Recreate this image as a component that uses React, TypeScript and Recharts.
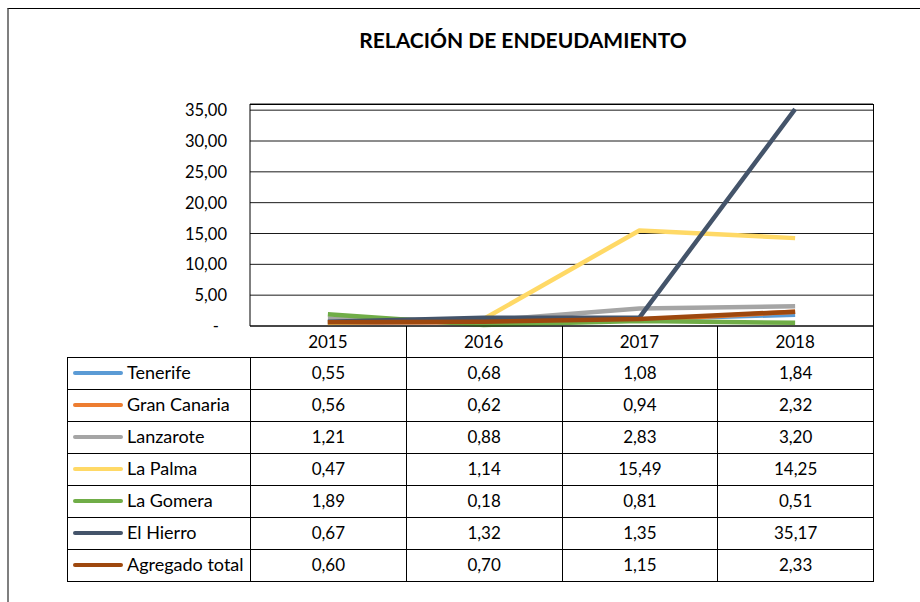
import React from "react";
import { LineChart, Line, XAxis, YAxis, CartesianGrid } from "recharts";

const years = ["2015", "2016", "2017", "2018"];
const seriesNames = ["Tenerife", "Gran Canaria", "Lanzarote", "La Palma", "La Gomera", "El Hierro", "Agregado total"];
const tenerife = [0.55, 0.68, 1.08, 1.84];
const granCanaria = [0.56, 0.62, 0.94, 2.32];
const lanzarote = [1.21, 0.88, 2.83, 3.2];
const laPalma = [0.47, 1.14, 15.49, 14.25];
const laGomera = [1.89, 0.18, 0.81, 0.51];
const elHierro = [0.67, 1.32, 1.35, 35.17];
const agregado = [0.6, 0.7, 1.15, 2.33];
const yTicks = [0, 5, 10, 15, 20, 25, 30, 35];
const colors = ["#5B9BD5", "#ED7D31", "#A5A5A5", "#FFD966", "#70AD47", "#44546A", "#9E480E"];

const seriesValues = [tenerife, granCanaria, lanzarote, laPalma, laGomera, elHierro, agregado];
const keys = ["s0", "s1", "s2", "s3", "s4", "s5", "s6"];

const data = years.map((y, i) => {
  const row: any = { year: y };
  seriesValues.forEach((vals, s) => {
    row[keys[s]] = vals[i];
  });
  return row;
});

const FONT = "Lato, 'Open Sans', sans-serif";
const W = 920;
const H = 602;
const plotLeft = 250;
const plotRight = 873;
const plotTop = 104;
const plotBottom = 326;
const headerH = 31;
const rowH = 32;
const tableLeft = 67;
const colW = (plotRight - plotLeft) / years.length;

const fmt = (v: number) => v.toFixed(2).replace(".", ",");

const YTick = (props: any) => {
  const { y, payload } = props;
  const v = payload.value;
  return (
    <text
      x={v === 0 ? 219 : 227}
      y={y}
      textAnchor="end"
      dominantBaseline="central"
      fontFamily={FONT}
      fontSize={16.5}
      fill="#000"
    >
      {v === 0 ? "-" : fmt(v)}
    </text>
  );
};

const XTick = (props: any) => {
  const { x, payload } = props;
  return (
    <text
      x={x}
      y={plotBottom + headerH / 2}
      textAnchor="middle"
      dominantBaseline="central"
      fontFamily={FONT}
      fontSize={17}
      fill="#000"
    >
      {payload.value}
    </text>
  );
};

const border = "1px solid #000";

export default function App() {
  return (
    <div style={{ position: "absolute", left: 0, top: 0, width: W, height: H, background: "#fff", overflow: "hidden" }}>
      <div
        style={{
          position: "absolute",
          left: 7,
          top: 8,
          width: W - 7,
          height: H - 8,
          borderTop: "1px solid #000",
          borderLeft: "2px solid #7f7f7f",
          boxSizing: "border-box",
        }}
      />
      <div
        style={{
          position: "absolute",
          left: 523 - 250,
          width: 500,
          top: 27,
          textAlign: "center",
          fontFamily: FONT,
          fontWeight: 700,
          fontSize: 21,
          color: "#000",
        }}
      >
        RELACIÓN DE ENDEUDAMIENTO
      </div>
      <div style={{ position: "absolute", left: 0, top: 0 }}>
        <LineChart
          width={W}
          height={H}
          data={data}
          margin={{ top: plotTop, right: W - plotRight, bottom: H - plotBottom - headerH, left: 0 }}
        >
          <CartesianGrid horizontal={true} vertical={false} stroke="#1a1a1a" strokeDasharray="" />
          <XAxis
            dataKey="year"
            height={headerH}
            tickLine={false}
            axisLine={{ stroke: "#000" }}
            tick={<XTick />}
            interval={0}
            padding={{ left: colW / 2, right: colW / 2 }}
          />
          <YAxis
            width={plotLeft}
            domain={[0, 36]}
            ticks={yTicks}
            tickLine={false}
            axisLine={{ stroke: "#000" }}
            tick={<YTick />}
            interval={0}
          />
          {keys.map((k, i) => (
            <Line
              key={k}
              dataKey={k}
              name={seriesNames[i]}
              stroke={colors[i]}
              strokeWidth={4.5}
              dot={false}
              activeDot={false}
              isAnimationActive={false}
              strokeLinejoin="round"
            />
          ))}
        </LineChart>
      </div>
      <div
        style={{
          position: "absolute",
          left: plotLeft,
          top: plotTop,
          width: plotRight - plotLeft + 1,
          height: plotBottom - plotTop + 1,
          borderTop: border,
          borderRight: border,
          boxSizing: "border-box",
          pointerEvents: "none",
        }}
      />
      {years.map((y, i) => (
        <div
          key={"h" + y}
          style={{
            position: "absolute",
            left: plotLeft + colW * (i + 1),
            top: plotBottom,
            width: 1,
            height: headerH,
            background: "#000",
          }}
        />
      ))}
      {seriesNames.map((name, r) => {
        const top = plotBottom + headerH + r * rowH;
        return (
          <React.Fragment key={name}>
            <div
              style={{
                position: "absolute",
                left: tableLeft,
                top,
                width: plotLeft - tableLeft + 1,
                height: rowH + 1,
                border: border,
                boxSizing: "border-box",
                display: "flex",
                alignItems: "center",
                paddingBottom: 3,
                fontFamily: FONT,
                fontSize: 18,
                color: "#000",
                whiteSpace: "nowrap",
              }}
            >
              <div
                style={{
                  width: 50,
                  height: 4,
                  borderRadius: 2,
                  background: colors[r],
                  marginLeft: 5,
                  marginRight: 4,
                  marginTop: 1,
                  flexShrink: 0,
                }}
              />
              {name}
            </div>
            {seriesValues[r].map((v, c) => (
              <div
                key={c}
                style={{
                  position: "absolute",
                  left: plotLeft + colW * c,
                  top,
                  width: colW + 1,
                  height: rowH + 1,
                  border: border,
                  boxSizing: "border-box",
                  display: "flex",
                  alignItems: "center",
                  justifyContent: "center",
                  paddingBottom: 3,
                  fontFamily: FONT,
                  fontSize: 17,
                  color: "#000",
                }}
              >
                {fmt(v)}
              </div>
            ))}
          </React.Fragment>
        );
      })}
    </div>
  );
}
